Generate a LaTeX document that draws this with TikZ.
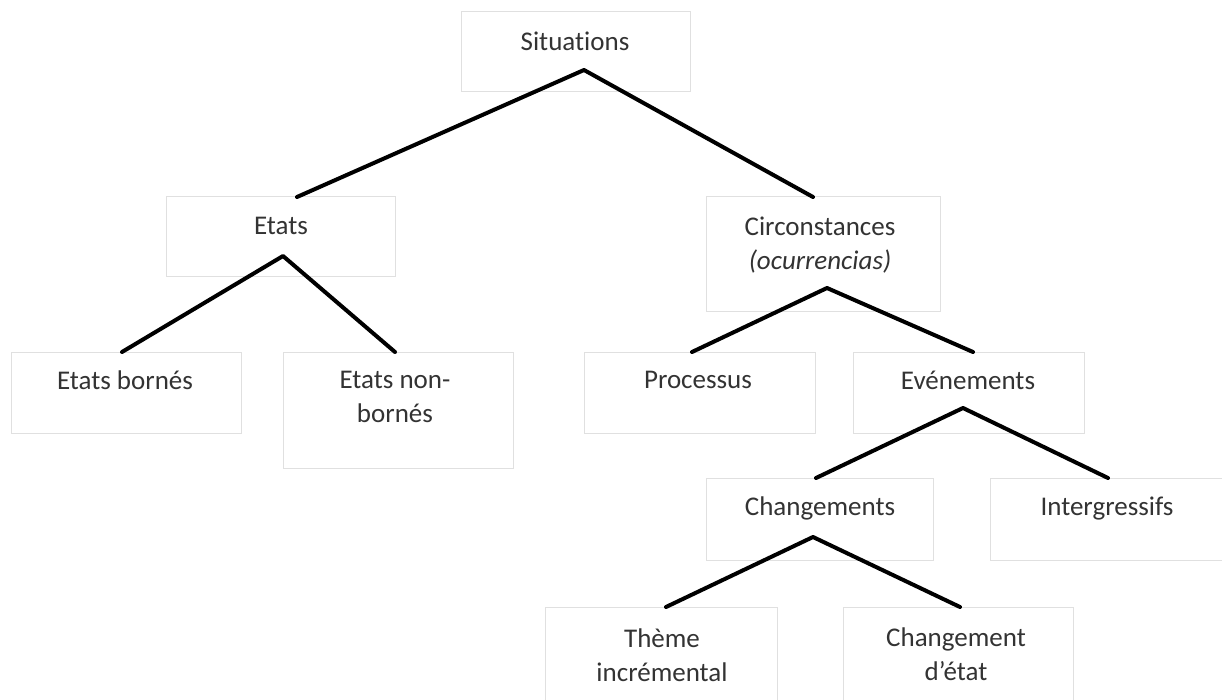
\documentclass[tikz,border=0pt]{standalone}
\usepackage{fontspec}
\setmainfont{Carlito}[Ligatures={NoCommon}]
\usetikzlibrary{positioning}
\definecolor{boxline}{HTML}{E0E0E0}
\definecolor{txt}{HTML}{333333}
\tikzset{
  box/.style={draw=boxline, line width=1pt, rectangle, anchor=north west, inner sep=0pt, outer sep=0pt},
  lbl/.style={text=txt, align=center, inner sep=0pt, font=\fontsize{27}{34}\selectfont},
  conn/.style={draw=black, line width=4pt, line cap=round, line join=round}
}
\begin{document}
\begin{tikzpicture}[x=1pt,y=-1pt]
\useasboundingbox (0,0) rectangle (1222,700);
\clip (0,0) rectangle (1222,700);
\fill[white] (0,0) rectangle (1222,700);
% boxes
\node[box, minimum width=229pt, minimum height=80pt] (sit) at (461,12) {};
\node[box, minimum width=229pt, minimum height=80pt] (eta) at (166,197) {};
\node[box, minimum width=234pt, minimum height=114pt] (cir) at (706,197) {};
\node[box, minimum width=230pt, minimum height=81pt] (eb) at (11,352) {};
\node[box, minimum width=230pt, minimum height=116pt] (enb) at (283,352) {};
\node[box, minimum width=231pt, minimum height=81pt] (pro) at (584,352) {};
\node[box, minimum width=231pt, minimum height=81pt] (eve) at (853,352) {};
\node[box, minimum width=227pt, minimum height=82pt] (cha) at (706,478) {};
\node[box, minimum width=240pt, minimum height=82pt] (int) at (990,478) {};
\node[box, minimum width=232pt, minimum height=110pt] (the) at (545,607) {};
\node[box, minimum width=230pt, minimum height=110pt] (ced) at (843,607) {};
% labels
\node[lbl] (sitT) at (575,41) {Situations};
\node[lbl] (etaT) at (281,226) {Etats};
\node[lbl] (cirT) at (820,245) {Circonstances\\\textit{(ocurrencias)}};
\node[lbl] (ebT) at (125,380) {Etats bornés};
\node[lbl] (enbT) at (395,397) {Etats non-\\bornés};
\node[lbl] (proT) at (698,380) {Processus};
\node[lbl] (eveT) at (968,380) {Evénements};
\node[lbl] (chaT) at (820,508) {Changements};
\node[lbl] (intT) at (1107,509) {Intergressifs};
\node[lbl] (theT) at (662,655) {Thème\\incrémental};
\node[lbl] (cedT) at (956,654) {Changement\\d’état};
% apex points
\coordinate (sitA) at (584,70);
\coordinate (etaA) at (283,256);
\coordinate (cirA) at (827,288);
\coordinate (eveA) at (963,408);
\coordinate (chaA) at (813,537);
% connectors
\draw[conn] ([xshift=131pt]eta.north west) -- (sitA) -- ([xshift=107pt]cir.north west);
\draw[conn] ([xshift=111pt]eb.north west) -- (etaA) -- ([xshift=112pt]enb.north west);
\draw[conn] ([xshift=108pt]pro.north west) -- (cirA) -- ([xshift=120pt]eve.north west);
\draw[conn] ([xshift=110pt]cha.north west) -- (eveA) -- ([xshift=118pt]int.north west);
\draw[conn] ([xshift=121pt]the.north west) -- (chaA) -- ([xshift=117pt]ced.north west);
\end{tikzpicture}
\end{document}
